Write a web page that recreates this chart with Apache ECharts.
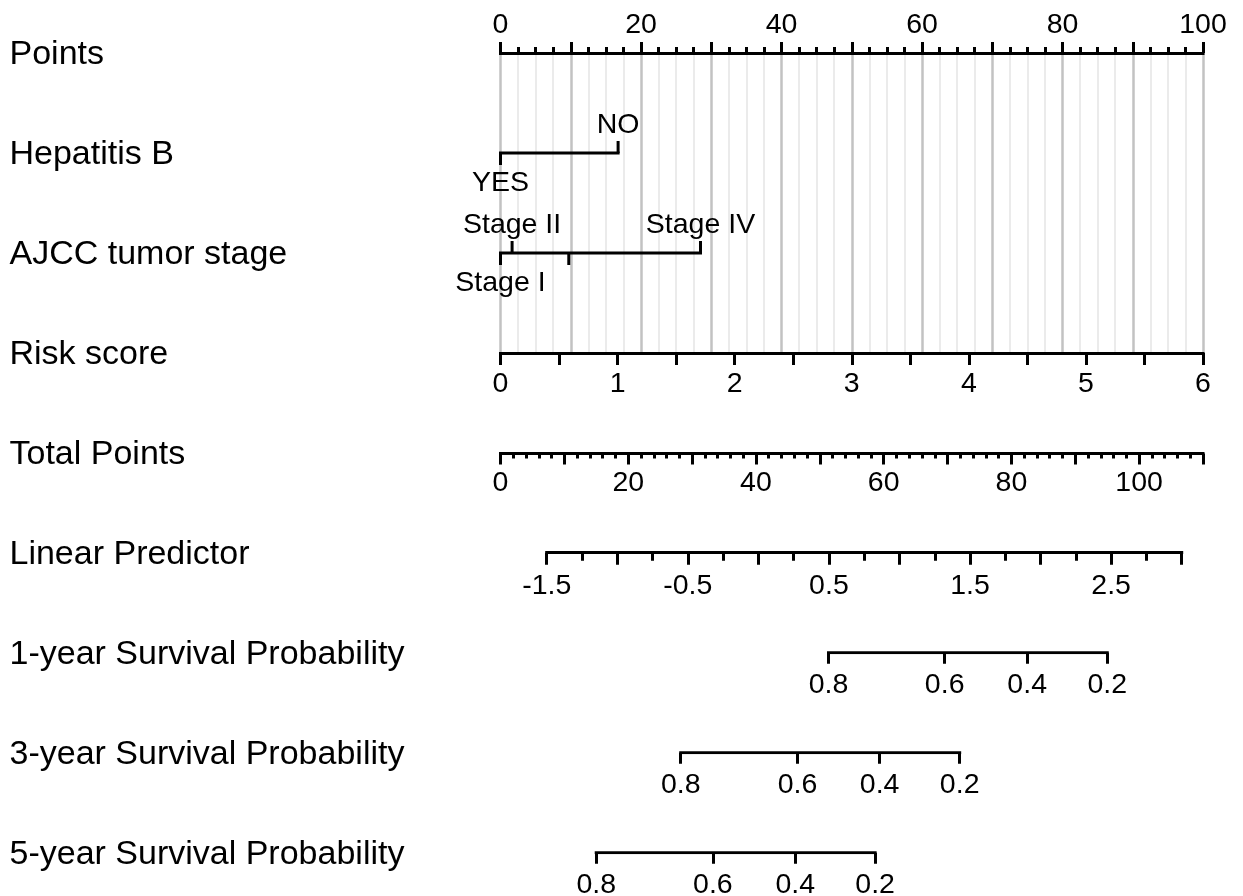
<!DOCTYPE html>
<html><head><meta charset="utf-8">
<script src="https://cdn.jsdelivr.net/npm/echarts@6/dist/echarts.min.js"></script>
<style>html,body{margin:0;padding:0;background:#fff}#c{width:1243px;height:896px}</style>
</head><body><div id="c"></div>
<script>
// ---------- data ----------
const rowNames = ['Points','Hepatitis B','AJCC tumor stage','Risk score','Total Points','Linear Predictor',
  '1-year Survival Probability','3-year Survival Probability','5-year Survival Probability'];
const hepLevels = ['YES','NO'];
const hepPoints = [0, 16.74];
const ajccLevels = ['Stage I','Stage II','Stage III','Stage IV'];
const ajccPoints = [0, 1.65, 9.72, 28.47];
const ajccLabelShown = [true, true, false, true];
const pointsRange = [0, 100];
const riskRange = [0, 6];
const totalRange = [0, 110];
const lpRange = [-1.5, 3.0];
const survLabels = ['0.8','0.6','0.4','0.2'];
const surv1yTotal = [51.36, 69.55, 82.47, 95.01];
const surv3yTotal = [28.22, 46.50, 59.36, 71.90];
const surv5yTotal = [14.99, 33.26, 46.16, 58.66];

// ---------- style / layout ----------
const FONT = "'Liberation Sans', Arial, Helvetica, sans-serif";
const TICK_FS = 28.5, ROW_FS = 34, LW = 3;
const BLACK = '#000';
const axisLineStyle = {show:true, lineStyle:{color:BLACK, width:LW, cap:'square'}};
const lbl = (margin, formatter, extra) => Object.assign({show:true, margin, color:BLACK, fontSize:TICK_FS,
  fontFamily:FONT, formatter, showMinLabel:true, showMaxLabel:true, hideOverlap:false}, extra||{});
const near = (a,b) => Math.abs(a-b) < 1e-6;

const chart = echarts.init(document.getElementById('c'), null, {renderer:'canvas'});

const L = 500.5, R = 40;
const grids = [
  {left:L, right:R, top:53, height:300},             // 0 Points / factors / Risk score
  {left:L, right:R, top:443.5, height:10},           // 1 Total points
  {left:546.7, right:61.3, top:542.7, height:10},    // 2 Linear predictor
  {left:L, right:R, top:642.7, height:10},           // 3 1-year
  {left:L, right:R, top:742.7, height:10},           // 4 3-year
  {left:L, right:R, top:842.7, height:10},           // 5 5-year
  {left:L, right:R, top:55, bottom:41}               // 6 row names
].map(g => Object.assign({outerBoundsMode:'none', containLabel:false}, g));

const survSets = [surv1yTotal, surv3yTotal, surv5yTotal];

const xAxes = [
  { // Points
    gridIndex:0, type:'value', position:'top', min:pointsRange[0], max:pointsRange[1], interval:10,
    axisLine:axisLineStyle,
    axisTick:{show:true, length:11, lineStyle:{color:BLACK, width:LW}},
    minorTick:{show:true, splitNumber:4, length:6, lineStyle:{color:BLACK, width:LW}},
    splitLine:{show:true, lineStyle:{color:'#c2c2c2', width:2.5}},
    minorSplitLine:{show:true, lineStyle:{color:'#ebebeb', width:2}},
    axisLabel:lbl(13, v => (v % 20 === 0 ? String(v) : ''))
  },
  { // Risk score
    gridIndex:0, type:'value', position:'bottom', min:riskRange[0], max:riskRange[1], interval:0.5,
    axisLine:axisLineStyle,
    axisTick:{show:true, length:12, lineStyle:{color:BLACK, width:LW}},
    splitLine:{show:false},
    axisLabel:lbl(17, v => (Number.isInteger(v) ? String(v) : ''))
  },
  { // Total points
    gridIndex:1, type:'value', position:'bottom', min:totalRange[0], max:totalRange[1], interval:10,
    axisLine:axisLineStyle,
    axisTick:{show:true, length:11, lineStyle:{color:BLACK, width:LW}},
    minorTick:{show:true, splitNumber:5, length:5, lineStyle:{color:BLACK, width:LW}},
    splitLine:{show:false},
    axisLabel:lbl(15, v => (v % 20 === 0 ? String(v) : ''))
  },
  { // Linear predictor
    gridIndex:2, type:'value', position:'bottom', min:lpRange[0], max:lpRange[1], interval:0.5,
    axisLine:axisLineStyle,
    axisTick:{show:true, length:12, lineStyle:{color:BLACK, width:LW}},
    minorTick:{show:true, splitNumber:2, length:8, lineStyle:{color:BLACK, width:LW}},
    splitLine:{show:false},
    axisLabel:lbl(18.5, v => (near(((v - lpRange[0]) % 1 + 1) % 1, 0) ? v.toFixed(1) : ''))
  }
].concat(survSets.map((vals, i) => ({
    gridIndex:3+i, type:'value', position:'bottom', min:totalRange[0], max:totalRange[1],
    axisLine:{show:false},
    axisTick:{show:true, length:11, customValues:vals, lineStyle:{color:BLACK, width:LW}},
    splitLine:{show:false},
    axisLabel:lbl(17.5, v => { let k = 0; vals.forEach((t,j)=>{ if (Math.abs(t-v) < Math.abs(vals[k]-v)) k=j; }); return survLabels[k]; },
      {customValues:vals})
  }))).concat([
  {gridIndex:6, type:'value', show:false}
]);

const yAxes = [
  {gridIndex:0, type:'value', min:0, max:3, inverse:true, show:false},
  {gridIndex:1, type:'value', min:0, max:1, show:false},
  {gridIndex:2, type:'value', min:0, max:1, show:false},
  {gridIndex:3, type:'value', min:0, max:1, show:false},
  {gridIndex:4, type:'value', min:0, max:1, show:false},
  {gridIndex:5, type:'value', min:0, max:1, show:false},
  {gridIndex:6, type:'category', inverse:true, boundaryGap:false, data:rowNames,
    axisLine:{show:false}, axisTick:{show:false}, splitLine:{show:false},
    axisLabel:{show:true, interval:0, align:'left', margin:491, color:BLACK, fontSize:ROW_FS, fontFamily:FONT}}
];

// factor rows inside grid 0 (row index on hidden y axis)
const factors = [
  {row:1, levels:hepLevels, pts:hepPoints, shown:hepLevels.map(()=>true)},
  {row:2, levels:ajccLevels, pts:ajccPoints, shown:ajccLabelShown}
];
const factorItems = [];
factors.forEach(f => f.levels.forEach((name, j) => {
  factorItems.push({name, value:[f.pts[j], f.row, j % 2 === 0 ? 1 : -1], shown:f.shown[j]});
}));

const series = [];
factors.forEach(f => {
  series.push({type:'line', xAxisIndex:0, yAxisIndex:0, symbol:'none', silent:true, z:3,
    lineStyle:{color:BLACK, width:LW, cap:'square'},
    data:[[Math.min(...f.pts), f.row], [Math.max(...f.pts), f.row]]});
});
series.push({
  type:'custom', xAxisIndex:0, yAxisIndex:0, z:4, silent:true,
  data:factorItems.map(d => ({name:d.name, value:d.value})),
  renderItem:(params, api) => {
    const it = factorItems[params.dataIndex];
    const p = api.coord([api.value(0), api.value(1)]);
    const dir = api.value(2);
    const children = [{type:'line', shape:{x1:p[0], y1:p[1], x2:p[0], y2:p[1] + dir*12},
      style:{stroke:BLACK, lineWidth:LW}}];
    if (it.shown) children.push({type:'text', x:p[0], y:p[1] + (dir < 0 ? -27.5 : 30.5),
      style:{text:it.name, align:'center', verticalAlign:'middle', fill:BLACK,
        font:TICK_FS + 'px ' + FONT}});
    return {type:'group', children};
  }
});
survSets.forEach((vals, i) => {
  series.push({type:'line', xAxisIndex:4+i, yAxisIndex:3+i, symbol:'none', silent:true, z:3,
    lineStyle:{color:BLACK, width:LW, cap:'square'},
    data:[[Math.min(...vals), 0], [Math.max(...vals), 0]]});
});
// keep the row-name grid alive
series.push({type:'line', xAxisIndex:7, yAxisIndex:6, data:[], symbol:'none'});

chart.setOption({
  animation:false, backgroundColor:'#fff',
  textStyle:{fontFamily:FONT},
  grid:grids, xAxis:xAxes, yAxis:yAxes, series
});
</script></body></html>
